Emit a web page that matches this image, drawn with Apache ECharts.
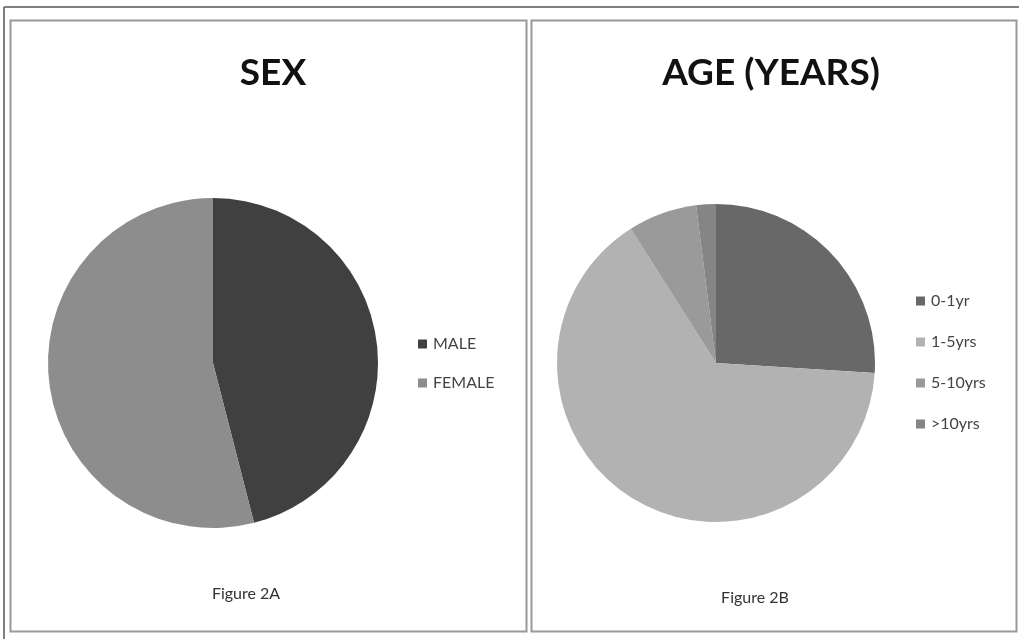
<!DOCTYPE html>
<html><head><meta charset="utf-8">
<script src="https://cdn.jsdelivr.net/npm/echarts@6/dist/echarts.min.js"></script>
<style>html,body{margin:0;padding:0;background:#fff}#c{width:1019px;height:639px}</style>
</head><body><div id="c"></div>
<script>
const sexCategories = ['MALE', 'FEMALE'];
const sexValues = [46, 54];
const ageCategories = ['0-1yr', '1-5yrs', '5-10yrs', '>10yrs'];
const ageValues = [26, 65, 7, 2];
const sexColors = ['#404040', '#8d8d8d'];
const ageColors = ['#686868', '#b2b2b2', '#9a9a9a', '#858585'];

const chart = echarts.init(document.getElementById('c'), null, {renderer: 'canvas'});
const font = 'Lato, "Open Sans", sans-serif';
chart.setOption({
  animation: false,
  backgroundColor: '#fff',
  title: [
    {text: 'SEX', left: 268, top: 50, textAlign: 'center', textStyle: {fontFamily: font, fontWeight: 'bold', fontSize: 37, color: '#111'}},
    {text: 'AGE (YEARS)', left: 766, top: 50, textAlign: 'center', textStyle: {fontFamily: font, fontWeight: 'bold', fontSize: 37, color: '#111'}},
    {text: 'Figure 2A', left: 241, top: 581, textAlign: 'center', textStyle: {fontFamily: font, fontWeight: 'normal', fontSize: 16, color: '#333'}},
    {text: 'Figure 2B', left: 750, top: 585, textAlign: 'center', textStyle: {fontFamily: font, fontWeight: 'normal', fontSize: 16, color: '#333'}}
  ],
  legend: [
    {data: sexCategories, orient: 'vertical', left: 413, top: 330, itemWidth: 9, itemHeight: 9, itemGap: 21, icon: 'rect',
     selectedMode: false, textStyle: {fontFamily: font, fontSize: 16, lineHeight: 18, color: '#444', padding: [0,0,0,1]}},
    {data: ageCategories, orient: 'vertical', left: 911, top: 287, itemWidth: 9, itemHeight: 9, itemGap: 23, icon: 'rect',
     selectedMode: false, textStyle: {fontFamily: font, fontSize: 16, lineHeight: 18, color: '#444', padding: [0,0,0,1]}}
  ],
  graphic: [
    {type: 'line', shape: {x1: 4, y1: 7, x2: 1019, y2: 7}, style: {stroke: '#555', lineWidth: 1.5}, silent: true},
    {type: 'line', shape: {x1: 4, y1: 7, x2: 4, y2: 639}, style: {stroke: '#555', lineWidth: 1.5}, silent: true},
    {type: 'rect', shape: {x: 10.5, y: 20.5, width: 516, height: 611}, style: {fill: null, stroke: '#999', lineWidth: 2}, silent: true},
    {type: 'rect', shape: {x: 531.5, y: 20.5, width: 485, height: 611}, style: {fill: null, stroke: '#999', lineWidth: 2}, silent: true}
  ],
  series: [
    {type: 'pie', center: [213, 363], radius: [0, 165], startAngle: 90, clockwise: true,
     label: {show: false}, labelLine: {show: false}, emphasis: {disabled: true}, silent: true,
     data: sexCategories.map((n, i) => ({name: n, value: sexValues[i], itemStyle: {color: sexColors[i]}}))},
    {type: 'pie', center: [716, 363], radius: [0, 159], startAngle: 90, clockwise: true,
     label: {show: false}, labelLine: {show: false}, emphasis: {disabled: true}, silent: true,
     data: ageCategories.map((n, i) => ({name: n, value: ageValues[i], itemStyle: {color: ageColors[i]}}))}
  ]
});
</script></body></html>
